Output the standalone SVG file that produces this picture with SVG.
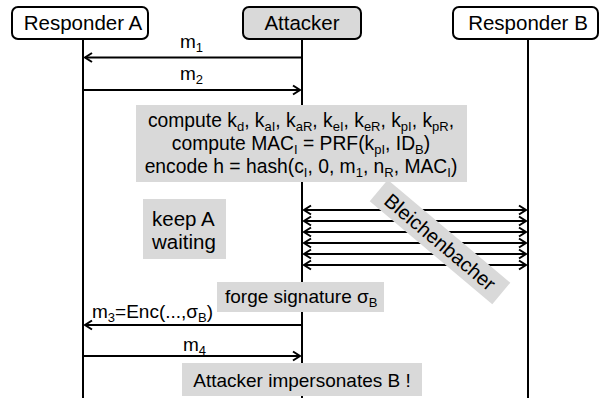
<svg xmlns="http://www.w3.org/2000/svg" width="602" height="398" viewBox="0 0 602 398">
<style>
text{font-family:"Liberation Sans",Arial,sans-serif;fill:#000}
.node{font-size:20.5px}
.t{font-size:19px}
.s{font-size:13px}
.box{fill:#fff;stroke:#000;stroke-width:2}
.gbox{fill:#d9d9d9;stroke:#000;stroke-width:2}
.note{fill:#d9d9d9;stroke:none}
.life{stroke:#000;stroke-width:2;fill:none}
.msg{stroke:#000;stroke-width:2;fill:none;marker-end:url(#ah)}
.bi{stroke:#000;stroke-width:2;fill:none;marker-start:url(#ah);marker-end:url(#ah)}
</style>
<defs>
<marker id="ah" viewBox="-9 -6 11 12" markerWidth="11" markerHeight="12" refX="0" refY="0" orient="auto-start-reverse" markerUnits="userSpaceOnUse">
<path d="M-7,-4.5 L0,0 L-7,4.5" fill="none" stroke="#000" stroke-width="2"/>
</marker>
</defs>
<g id="lifelines">
<line class="life" x1="83" y1="39" x2="83" y2="398"/>
<line class="life" x1="302" y1="39" x2="302" y2="398"/>
<line class="life" x1="528" y1="39" x2="528" y2="398"/>
</g>
<g id="responderA">
<rect class="box" x="12" y="7" width="136" height="32" rx="6"/>
<text class="node" x="83" y="30" text-anchor="middle">Responder A</text>
</g>
<g id="attacker">
<rect class="gbox" x="243" y="7" width="118" height="32" rx="6"/>
<text class="node" x="302" y="30" text-anchor="middle">Attacker</text>
</g>
<g id="responderB">
<rect class="box" x="453" y="7" width="145" height="32" rx="6"/>
<text class="node" x="528" y="30" text-anchor="middle">Responder B</text>
</g>
<g id="connectors">
<line class="msg" x1="302" y1="57.5" x2="85" y2="57.5"/>
<line class="msg" x1="83" y1="90" x2="300" y2="90"/>
<line class="bi" x1="304" y1="210" x2="526" y2="210"/>
<line class="bi" x1="304" y1="221" x2="526" y2="221"/>
<line class="bi" x1="304" y1="232" x2="526" y2="232"/>
<line class="bi" x1="304" y1="243" x2="526" y2="243"/>
<line class="bi" x1="304" y1="254" x2="526" y2="254"/>
<line class="bi" x1="304" y1="265" x2="526" y2="265"/>
<line class="msg" x1="302" y1="325" x2="85" y2="325"/>
<line class="msg" x1="83" y1="356" x2="300" y2="356"/>
</g>
<g id="labels">
<text class="t" x="180" y="48">m<tspan class="s" dy="4">1</tspan></text>
<text class="t" x="180" y="80">m<tspan class="s" dy="4">2</tspan></text>
<text class="t" x="92" y="318">m<tspan class="s" dy="4">3</tspan><tspan dy="-4">=Enc(...,σ</tspan><tspan class="s" dy="4">B</tspan><tspan dy="-4">)</tspan></text>
<text class="t" x="183" y="351">m<tspan class="s" dy="4">4</tspan></text>
</g>
<g id="bleichenbacher" transform="translate(440,242) rotate(40)">
<rect class="note" x="-80" y="-14" width="160" height="28"/>
<text x="0" y="7" text-anchor="middle" style="font-size:20px">Bleichenbacher</text>
</g>
<g id="compute">
<rect class="note" x="136" y="105" width="331" height="77"/>
<text class="t" x="301" y="127" text-anchor="middle" style="font-size:19.3px">compute k<tspan class="s" dy="4">d</tspan><tspan dy="-4">, k</tspan><tspan class="s" dy="4">aI</tspan><tspan dy="-4">, k</tspan><tspan class="s" dy="4">aR</tspan><tspan dy="-4">, k</tspan><tspan class="s" dy="4">eI</tspan><tspan dy="-4">, k</tspan><tspan class="s" dy="4">eR</tspan><tspan dy="-4">, k</tspan><tspan class="s" dy="4">pI</tspan><tspan dy="-4">, k</tspan><tspan class="s" dy="4">pR</tspan><tspan dy="-4">,</tspan></text>
<text class="t" x="301" y="150" text-anchor="middle" style="font-size:19.3px">compute MAC<tspan class="s" dy="4">I</tspan><tspan dy="-4"> = PRF(k</tspan><tspan class="s" dy="4">pI</tspan><tspan dy="-4">, ID</tspan><tspan class="s" dy="4">B</tspan><tspan dy="-4">)</tspan></text>
<text class="t" x="301" y="173" text-anchor="middle" style="font-size:19.3px">encode h = hash(c<tspan class="s" dy="4">I</tspan><tspan dy="-4">, 0, m</tspan><tspan class="s" dy="4">1</tspan><tspan dy="-4">, n</tspan><tspan class="s" dy="4">R</tspan><tspan dy="-4">, MAC</tspan><tspan class="s" dy="4">I</tspan><tspan dy="-4">)</tspan></text>
</g>
<g id="keepA">
<rect class="note" x="143" y="199" width="83" height="60"/>
<text x="152" y="226" style="font-size:20.5px">keep A</text>
<text x="152" y="249" style="font-size:20.5px">waiting</text>
</g>
<g id="forge">
<rect class="note" x="217" y="282" width="167" height="30"/>
<text class="t" x="225" y="303">forge signature σ<tspan class="s" dy="4">B</tspan></text>
</g>
<g id="impersonate">
<rect class="note" x="182" y="363" width="240" height="33"/>
<text class="t" x="302" y="387" text-anchor="middle">Attacker impersonates B !</text>
</g>
</svg>
